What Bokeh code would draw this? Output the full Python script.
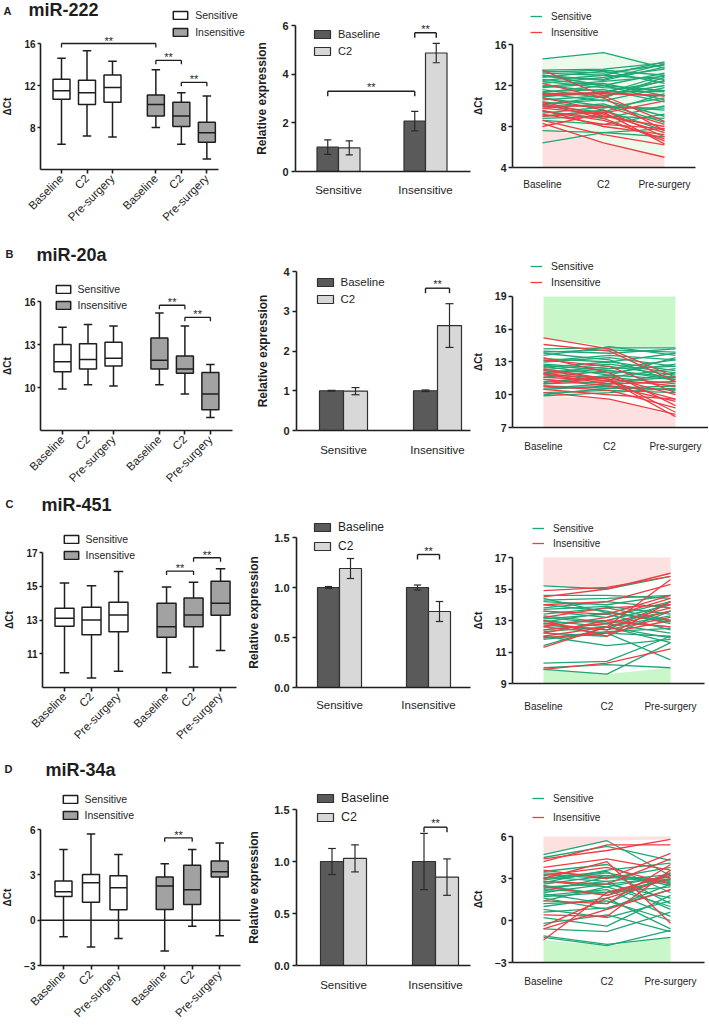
import math
import numpy as np
from bokeh.plotting import figure
from bokeh.layouts import column, row
from bokeh.models import (FixedTicker, Legend, LegendItem, Label,
                          CustomJSTickFormatter, NumeralTickFormatter)
from bokeh.embed import file_html
from bokeh.resources import INLINE
from bokeh.core.properties import value

FONT = "Liberation Sans"
INK = "#1e1e1e"
GREEN = "#1fa774"
RED = "#ee3d43"
GREEN_FILL = "#c9f7c9"
PINK_FILL = "#fde1e1"
PALE_GREEN = "#ecfaec"
INS_BOX = "#a2a2a2"
BAR_BASE = "#5a5a5a"
BAR_C2 = "#d8d8d8"

# ------------------------------------------------------------------ data
time_points = ["Baseline", "C2", "Pre-surgery"]
groups = ["Sensitive", "Insensitive"]
bar_series = ["Baseline", "C2"]
panel_letters = ["A", "B", "C", "D"]
panel_titles = ["miR-222", "miR-20a", "miR-451", "miR-34a"]

# box statistics per time point: [min, q1, median, q3, max]
a_box_sens = [[6.4, 10.7, 11.5, 12.6, 14.6], [7.2, 10.2, 11.3, 12.5, 15.3], [7.1, 10.4, 11.8, 13.0, 14.3]]
a_box_ins = [[8.0, 9.1, 10.2, 11.1, 13.5], [6.4, 8.1, 9.1, 10.4, 11.3], [5.0, 6.6, 7.5, 8.5, 11.0]]
b_box_sens = [[9.9, 11.1, 11.8, 13.0, 14.2], [10.2, 11.3, 11.95, 13.05, 14.4], [10.1, 11.5, 12.05, 13.15, 14.3]]
b_box_ins = [[10.2, 11.3, 11.9, 13.45, 15.2], [9.55, 11.0, 11.3, 12.2, 14.3], [7.9, 8.45, 9.55, 11.05, 11.6]]
c_box_sens = [[9.87, 12.63, 13.1, 13.7, 15.2], [9.57, 12.13, 13.0, 13.75, 15.03], [9.97, 12.3, 13.3, 14.05, 15.88]]
c_box_ins = [[9.87, 11.98, 12.6, 14.0, 14.95], [10.22, 12.6, 13.3, 14.3, 15.23], [11.2, 13.28, 14.0, 15.3, 16.03]]
d_box_sens = [[-1.1, 1.57, 1.88, 2.6, 4.68], [-1.78, 1.18, 2.48, 3.03, 5.71], [-1.22, 0.69, 2.15, 2.94, 4.35]]
d_box_ins = [[-2.04, 0.71, 2.26, 2.85, 3.73], [-0.41, 1.04, 2.01, 3.64, 4.68], [-1.03, 2.85, 3.2, 3.91, 5.1]]

# significance brackets for box plots: [box i, box j, bracket height]
a_box_sig = [[0, 3, 16.0], [3, 4, 14.4], [4, 5, 12.3]]
b_box_sig = [[3, 4, 15.74], [4, 5, 14.9]]
c_box_sig = [[3, 4, 15.9], [4, 5, 16.69]]
d_box_sig = [[3, 4, 5.45]]

# relative expression bars (Sensitive, Insensitive)
a_bar_base, a_bar_base_err = [1.0, 2.07], [0.30, 0.40]
a_bar_c2, a_bar_c2_err = [0.97, 4.87], [0.29, 0.40]
b_bar_base, b_bar_base_err = [1.0, 1.0], [0.01, 0.02]
b_bar_c2, b_bar_c2_err = [0.99, 2.64], [0.09, 0.55]
c_bar_base, c_bar_base_err = [1.0, 1.0], [0.01, 0.025]
c_bar_c2, c_bar_c2_err = [1.19, 0.76], [0.10, 0.10]
d_bar_base, d_bar_base_err = [1.0, 1.0], [0.125, 0.27]
d_bar_c2, d_bar_c2_err = [1.03, 0.85], [0.13, 0.175]
# bar brackets: [bar slot i, bar slot j, height]; slots: S-Base, S-C2, I-Base, I-C2
a_bar_sig = [[0, 2, 3.3], [2, 3, 5.7]]
b_bar_sig = [[2, 3, 3.58]]
c_bar_sig = [[2, 3, 1.33]]
d_bar_sig = [[2, 3, 1.33]]

# individual patient trajectories: [Baseline, C2, Pre-surgery]
a_lines_sens = [
    [14.6, 15.2, 13.7], [13.5, 13.6, 14.2], [13.4, 13.2, 14.0], [13.2, 13.0, 12.6],
    [13.0, 12.5, 13.8], [12.8, 13.4, 12.2], [12.6, 12.0, 13.2], [12.4, 11.8, 11.5],
    [12.2, 12.8, 13.6], [12.0, 11.4, 12.4], [11.8, 12.2, 11.0], [11.6, 10.8, 12.8],
    [11.4, 11.6, 10.4], [11.2, 10.5, 11.8], [11.0, 11.2, 13.0], [10.8, 10.0, 9.6],
    [10.6, 11.0, 12.0], [10.4, 9.8, 10.8], [10.2, 10.6, 9.0], [10.0, 9.4, 11.2],
    [9.8, 10.2, 8.4], [9.5, 8.8, 10.0], [9.0, 9.6, 7.6], [8.6, 8.2, 9.2],
    [7.6, 7.4, 7.0], [6.4, 7.4, 7.8], [13.0, 12.0, 11.5], [12.5, 13.0, 14.3],
    [13.3, 13.5, 13.0], [12.9, 12.6, 14.1], [11.9, 12.4, 12.9], [11.3, 12.0, 10.6],
    [10.9, 11.4, 11.4], [10.1, 10.9, 12.5], [9.3, 9.9, 9.8], [8.8, 9.0, 8.8]]
a_lines_ins = [
    [13.5, 11.0, 8.5], [12.2, 10.8, 7.6], [11.2, 11.3, 11.0], [11.1, 11.2, 11.0],
    [10.8, 9.6, 7.0], [10.4, 9.0, 8.0], [10.2, 8.8, 6.6], [10.0, 10.0, 8.2],
    [9.8, 9.2, 7.4], [9.5, 8.6, 6.8], [9.2, 8.2, 7.8], [9.0, 9.4, 6.3],
    [8.6, 7.2, 6.2], [8.3, 6.4, 5.0], [8.0, 9.3, 10.5], [9.6, 8.0, 7.2]]
b_lines_sens = [
    [14.2, 14.3, 14.3], [14.0, 13.8, 14.2], [13.6, 14.4, 13.6], [13.3, 13.0, 13.8],
    [13.0, 13.4, 12.6], [12.8, 12.4, 13.2], [12.5, 13.0, 12.2], [12.2, 12.0, 12.8],
    [12.0, 12.6, 11.8], [11.8, 11.6, 12.4], [11.6, 12.2, 11.4], [11.4, 11.0, 12.0],
    [11.2, 11.6, 11.0], [11.0, 11.2, 11.6], [10.8, 10.6, 10.8], [10.5, 10.8, 10.4],
    [10.2, 10.4, 10.2], [9.9, 10.2, 10.6], [13.8, 13.2, 11.2], [12.6, 11.8, 13.4],
    [13.9, 14.1, 13.9], [13.1, 13.6, 13.2], [12.3, 12.8, 12.0], [11.9, 12.4, 12.6],
    [11.1, 11.8, 11.4], [10.6, 11.0, 11.2], [10.0, 10.6, 10.5], [12.7, 12.2, 11.6]]
b_lines_ins = [
    [15.2, 14.2, 11.6], [14.6, 14.0, 11.2], [13.4, 12.0, 9.0], [13.2, 12.6, 10.2],
    [12.4, 11.4, 8.4], [12.0, 11.2, 9.6], [11.9, 11.0, 11.2], [11.6, 11.3, 8.0],
    [11.4, 10.8, 9.4], [11.0, 11.6, 10.0], [10.8, 10.4, 8.8], [10.5, 10.0, 9.6],
    [10.2, 9.6, 8.2], [12.2, 11.4, 10.8]]
c_lines_sens = [
    [15.2, 15.0, 15.8], [14.6, 14.6, 14.4], [14.2, 14.0, 14.6], [14.0, 13.6, 12.8],
    [13.8, 14.2, 13.8], [13.6, 13.2, 14.2], [13.4, 13.8, 13.0], [13.2, 12.8, 13.6],
    [13.1, 13.4, 12.4], [13.0, 12.6, 13.3], [12.8, 13.0, 14.0], [12.6, 12.2, 12.0],
    [12.4, 12.8, 12.2], [12.2, 12.0, 13.6], [12.0, 11.4, 11.8], [11.8, 12.2, 10.5],
    [11.4, 12.6, 11.6], [10.3, 10.4, 12.0], [9.9, 9.6, 11.6], [10.0, 10.2, 10.0],
    [14.4, 13.5, 13.0], [14.3, 14.4, 14.6], [13.7, 13.9, 13.4], [13.3, 12.9, 12.6],
    [12.9, 13.5, 12.9], [12.7, 12.4, 14.2], [12.3, 12.6, 11.9], [11.9, 12.3, 12.5]]
c_lines_ins = [
    [14.9, 15.1, 15.8], [14.5, 15.0, 16.0], [14.0, 14.2, 15.3], [13.6, 13.4, 14.6],
    [13.2, 13.8, 14.0], [12.8, 12.4, 13.2], [12.6, 13.2, 14.4], [12.4, 12.8, 13.8],
    [12.0, 12.6, 15.6], [11.9, 12.2, 13.0], [11.3, 12.6, 13.6], [9.9, 10.3, 11.2],
    [12.2, 13.0, 12.6], [13.0, 12.0, 14.2]]
d_lines_sens = [
    [4.7, 5.7, 3.2], [4.5, 5.3, 4.3], [3.5, 4.0, 2.0], [3.3, 3.0, 3.8],
    [3.0, 3.5, 1.2], [2.8, 2.4, 3.2], [2.6, 3.2, 2.8], [2.5, 1.8, 3.0],
    [2.3, 2.8, 0.8], [2.2, 2.0, 2.4], [2.0, 2.6, 1.6], [1.9, 1.2, 3.4],
    [1.8, 2.2, 0.3], [1.6, 0.8, 2.6], [1.4, 2.4, 1.0], [1.0, 1.6, -0.6],
    [0.6, 0.9, 2.2], [0.2, -0.4, 1.8], [-0.2, 0.4, -0.8], [-0.6, -0.8, 0.6],
    [-1.1, -1.7, -1.2], [-1.2, -1.8, -0.7], [2.7, 3.6, 4.1], [3.4, 3.2, 2.9],
    [3.1, 2.8, 3.3], [2.9, 3.4, 2.5], [2.4, 2.6, 3.1], [2.1, 3.1, 2.7],
    [1.7, 2.0, 2.9], [1.2, 1.4, 0.0], [0.8, 0.2, 1.4]]
d_lines_ins = [
    [4.4, 5.0, 5.8], [4.2, 5.4, 5.4], [3.8, 4.4, 3.6], [3.6, 3.0, 4.8],
    [3.2, 3.8, 2.6], [2.8, 2.6, 4.4], [2.4, 1.8, 3.4], [1.4, 1.2, 4.0],
    [0.4, 0.3, 3.6], [-0.4, 1.6, 3.0], [-0.6, 0.8, 2.2], [-1.4, 2.0, 3.2],
    [3.0, 4.2, -0.2]]

# ------------------------------------------------------------------ layout helpers
COL_X = [0, 248, 472]
COL_W = [248, 224, 236]
ROW_Y = [0, 235, 490, 752]
ROW_H = [235, 255, 262, 272]


def make_fig(ci, ri, frame_bottom, anchor_ref, anchor_val, px_x, y0, px_y):
    def X(ref):
        return anchor_val + (ref - anchor_ref) / px_x

    def Y(ref):
        return y0 + (frame_bottom - ref) / px_y

    x0r, x1r = COL_X[ci], COL_X[ci] + COL_W[ci]
    y0r, y1r = ROW_Y[ri], ROW_Y[ri] + ROW_H[ri]
    p = figure(width=COL_W[ci], height=ROW_H[ri], title=None,
               x_range=(X(x0r), X(x1r)), y_range=(Y(y1r), Y(y0r)),
               output_backend="svg", toolbar_location=None, tools="",
               min_border_left=0, min_border_right=0, min_border_top=0,
               min_border_bottom=0)
    p.outline_line_color = None
    p.grid.visible = False
    p.background_fill_color = "white"
    p.border_fill_color = "white"
    return p, X, Y


def style_axis(ax, tick_out, label_size, label_standoff):
    ax.axis_line_color = INK
    ax.axis_line_width = 1.6
    ax.major_tick_line_color = INK
    ax.major_tick_line_width = 1.6
    ax.major_tick_in = 0
    ax.major_tick_out = tick_out
    ax.minor_tick_line_color = None
    ax.major_label_text_font = FONT
    ax.major_label_text_color = INK
    ax.major_label_text_font_size = label_size
    ax.major_label_standoff = label_standoff
    ax.axis_label_text_font = FONT
    ax.axis_label_text_color = INK
    ax.axis_label_text_font_style = "bold"


NEG_FMT = "return tick < 0 ? '\u2212' + Math.abs(tick) : String(tick);"


def make_legend(p, ci, ri, items, left_ref, top_ref, glyph_w, glyph_h, label_h, standoff, size):
    bottom_ref = top_ref + 2 * label_h + 3
    loc = (left_ref - COL_X[ci], ROW_Y[ri] + ROW_H[ri] - bottom_ref)
    leg = Legend(items=[LegendItem(label=t, renderers=[r]) for t, r in items],
                 location=loc, orientation="vertical", padding=0, margin=0, spacing=3,
                 glyph_width=glyph_w, glyph_height=glyph_h, label_height=label_h,
                 label_standoff=standoff, label_text_font=FONT, label_text_font_size=size,
                 label_text_color=INK, border_line_color=None, background_fill_alpha=0)
    p.add_layout(leg)


def box_panel(ri, g, sens, ins, sig, yticks, ybounds, leg, title_xy, neg=False):
    p, X, Y = make_fig(0, ri, g["fb"], g["p1"], 1.0, g["px"], g["y0"], g["py"])
    pos = np.array([1, 2, 3, 1 + g["off"], 2 + g["off"], 3 + g["off"]], dtype=float)
    st = np.array(sens + ins, dtype=float)
    lo, q1, med, q3, hi = st.T
    w = g["bw"] / g["px"]
    lw = 1.5
    if neg:
        p.segment(x0=[X(g["fl"])], y0=[0], x1=[X(g["xend"])], y1=[0], line_color=INK, line_width=1.5)
    p.segment(x0=pos, y0=q3, x1=pos, y1=hi, line_color=INK, line_width=lw)
    p.segment(x0=pos, y0=lo, x1=pos, y1=q1, line_color=INK, line_width=lw)
    p.segment(x0=pos - w / 4, y0=hi, x1=pos + w / 4, y1=hi, line_color=INK, line_width=lw)
    p.segment(x0=pos - w / 4, y0=lo, x1=pos + w / 4, y1=lo, line_color=INK, line_width=lw)
    rs = p.vbar(x=pos[:3], width=w, bottom=q1[:3], top=q3[:3], fill_color="white",
                line_color=INK, line_width=lw)
    rin = p.vbar(x=pos[3:], width=w, bottom=q1[3:], top=q3[3:], fill_color=INS_BOX,
                 line_color=INK, line_width=lw)
    p.segment(x0=pos - w / 2, y0=med, x1=pos + w / 2, y1=med, line_color=INK, line_width=lw)

    # significance brackets
    d = 4 / g["py"]
    x0s, y0s, x1s, y1s, tx, ty = [], [], [], [], [], []
    for i, j, yb in sig:
        xi, xj = pos[i], pos[j]
        x0s += [xi, xi, xj]; x1s += [xj, xi, xj]
        y0s += [yb, yb, yb]; y1s += [yb, yb - d, yb - d]
        tx.append((xi + xj) / 2); ty.append(yb + 3 / g["py"])
    p.segment(x0=x0s, y0=y0s, x1=x1s, y1=y1s, line_color=INK, line_width=1.3)
    p.text(x=tx, y=ty, text=["**"] * len(tx), text_align="center", text_baseline="middle",
           text_font=value(FONT), text_font_size="11px", text_color=INK)

    # axes
    xa, ya = p.xaxis[0], p.yaxis[0]
    style_axis(xa, 4, "11.5px", 3)
    xa.fixed_location = g["y0"]
    xa.ticker = FixedTicker(ticks=list(pos))
    xa.major_label_overrides = {float(x): time_points[k % 3] for k, x in enumerate(pos)}
    xa.major_label_orientation = math.pi / 4
    xa.bounds = (X(g["fl"]), X(g["xend"]))
    style_axis(ya, 3, "10px", 2)
    ya.fixed_location = X(g["fl"])
    ya.ticker = FixedTicker(ticks=yticks)
    ya.bounds = ybounds
    ya.major_label_text_font_style = "bold"
    ya.axis_label = "\u0394Ct"
    ya.axis_label_text_font_size = "10px"
    ya.axis_label_standoff = 8
    if neg:
        ya.formatter = CustomJSTickFormatter(code=NEG_FMT)

    # panel letter and title
    (lx, ly), (tx0, ty0) = title_xy
    p.add_layout(Label(x=X(lx), y=Y(ly), text=panel_letters[ri], text_align="left",
                       text_baseline="middle", text_font=FONT, text_font_style="bold",
                       text_font_size="11px", text_color=INK))
    p.add_layout(Label(x=X(tx0), y=Y(ty0), text=panel_titles[ri], text_align="left",
                       text_baseline="middle", text_font=FONT, text_font_style="bold",
                       text_font_size="18px", text_color=INK))

    gl, top, lh, size = leg
    make_legend(p, 0, ri, [(groups[0], rs), (groups[1], rin)], gl, top, 18, 10, lh, 6, size)
    return p


def bar_panel(ri, g, base, base_err, c2, c2_err, sig, yticks, ytop, leg, xstand, fmt=None):
    p, X, Y = make_fig(1, ri, g["fb"], g["g1"], 1.0, g["px"], 0.0, g["py"])
    gx = np.array([1.0, 2.0])
    bw = g["bw"] / g["px"]
    xb, xc = gx - bw / 2, gx + bw / 2
    rb = p.vbar(x=xb, width=bw, bottom=0, top=base, fill_color=BAR_BASE, line_color="#303030",
                line_width=1.2)
    rc = p.vbar(x=xc, width=bw, bottom=0, top=c2, fill_color=BAR_C2, line_color="#303030",
                line_width=1.2)
    ex = np.concatenate([xb, xc])
    ev = np.array(base + c2)
    ee = np.array(base_err + c2_err)
    cw = bw / 6
    p.segment(x0=ex, y0=ev - ee, x1=ex, y1=ev + ee, line_color="#2a2a2a", line_width=1.2)
    p.segment(x0=ex - cw, y0=ev + ee, x1=ex + cw, y1=ev + ee, line_color="#2a2a2a", line_width=1.2)
    p.segment(x0=ex - cw, y0=ev - ee, x1=ex + cw, y1=ev - ee, line_color="#2a2a2a", line_width=1.2)

    slots = [xb[0], xc[0], xb[1], xc[1]]
    d = 5 / g["py"]
    x0s, y0s, x1s, y1s, tx, ty = [], [], [], [], [], []
    for i, j, yb in sig:
        xi, xj = slots[i], slots[j]
        x0s += [xi, xi, xj]; x1s += [xj, xi, xj]
        y0s += [yb, yb, yb]; y1s += [yb, yb - d, yb - d]
        tx.append((xi + xj) / 2); ty.append(yb + 4 / g["py"])
    p.segment(x0=x0s, y0=y0s, x1=x1s, y1=y1s, line_color=INK, line_width=1.4)
    p.text(x=tx, y=ty, text=["**"] * len(tx), text_align="center", text_baseline="middle",
           text_font=value(FONT), text_font_size="11px", text_color=INK)

    xa, ya = p.xaxis[0], p.yaxis[0]
    style_axis(xa, 0, "11.5px", xstand)
    xa.fixed_location = 0
    xa.major_tick_line_color = None
    xa.ticker = FixedTicker(ticks=[1, 2])
    xa.major_label_overrides = {1: groups[0], 2: groups[1]}
    xa.bounds = (X(g["fl"]), X(g["xend"]))
    style_axis(ya, 4, "11px", 3)
    ya.fixed_location = X(g["fl"])
    ya.major_label_text_font_style = "bold"
    ya.ticker = FixedTicker(ticks=yticks)
    ya.bounds = (0, ytop)
    ya.axis_label = "Relative expression"
    ya.axis_label_text_font_size = "12px"
    ya.axis_label_standoff = 10
    if fmt is not None:
        ya.formatter = fmt

    gl, top, lh, size = leg
    make_legend(p, 1, ri, [(bar_series[0], rb), (bar_series[1], rc)], gl, top, 20, 10, lh, 6, size)
    return p


def line_panel(ri, g, sens, ins, yticks, ybounds, mode, leg, xstand, neg=False):
    p, X, Y = make_fig(2, ri, g["fb"], g["c1"], 1.0, g["px"], g["y0"], g["py"])
    tx = [1, 2, 3]
    s = np.array(sens, dtype=float)
    r = np.array(ins, dtype=float)
    allv = np.vstack([s, r])
    lo_b, hi_b = ybounds
    if mode == "low_pink":
        p.varea(x=tx, y1=[lo_b] * 3, y2=r.min(axis=0), fill_color=PINK_FILL)
        p.varea(x=tx, y1=r.min(axis=0), y2=s.max(axis=0), fill_color=PALE_GREEN)
    elif mode == "green_top":
        p.varea(x=tx, y1=allv.max(axis=0), y2=[hi_b] * 3, fill_color=GREEN_FILL)
        p.varea(x=tx, y1=[lo_b] * 3, y2=allv.min(axis=0), fill_color=PINK_FILL)
    else:
        p.varea(x=tx, y1=allv.max(axis=0), y2=[hi_b] * 3, fill_color=PINK_FILL)
        p.varea(x=tx, y1=[lo_b] * 3, y2=allv.min(axis=0), fill_color=GREEN_FILL)
    rs = p.multi_line(xs=[tx] * len(sens), ys=sens, line_color=GREEN, line_width=1.3)
    rr = p.multi_line(xs=[tx] * len(ins), ys=ins, line_color=RED, line_width=1.3)

    xa, ya = p.xaxis[0], p.yaxis[0]
    style_axis(xa, 0, "10px", xstand)
    xa.fixed_location = g["y0"]
    xa.major_tick_line_color = None
    xa.ticker = FixedTicker(ticks=tx)
    xa.major_label_overrides = {1: time_points[0], 2: time_points[1], 3: time_points[2]}
    xa.bounds = (X(g["fl"]), X(g["xend"]))
    style_axis(ya, 4, "10.5px", 2)
    ya.fixed_location = X(g["fl"])
    ya.major_label_text_font_style = "bold"
    ya.ticker = FixedTicker(ticks=yticks)
    ya.bounds = ybounds
    ya.axis_label = "\u0394Ct"
    ya.axis_label_text_font_size = "10px"
    ya.axis_label_standoff = 8
    if neg:
        ya.formatter = CustomJSTickFormatter(code=NEG_FMT)

    gl, top, lh, size = leg
    make_legend(p, 2, ri, [(groups[0], rs), (groups[1], rr)], gl, top, 12, 10, lh, 9, size)
    return p


# ------------------------------------------------------------------ panels
box_geo = [
    dict(fl=40, fb=169, p1=61, px=25.5, y0=4, py=10.5, off=3.7, xend=218, bw=17),
    dict(fl=40, fb=430, p1=62, px=25.5, y0=7, py=14.33, off=3.8, xend=232, bw=17),
    dict(fl=42, fb=687, p1=64, px=27.0, y0=9, py=16.875, off=3.78, xend=236, bw=19),
    dict(fl=40, fb=965, p1=63, px=27.5, y0=-3, py=15.11, off=3.68, xend=240, bw=17),
]
bar_geo = [
    dict(fl=295, fb=171, g1=338, px=87, py=24.33, bw=21.5, xend=470),
    dict(fl=296, fb=430, g1=343, px=94, py=39.75, bw=24, xend=470),
    dict(fl=296, fb=687, g1=339, px=89, py=100.0, bw=22, xend=470),
    dict(fl=296, fb=965, g1=343, px=92, py=104.0, bw=23, xend=470),
]
line_geo = [
    dict(fl=512, fb=167, c1=542, px=61, y0=4, py=10.25, xend=695),
    dict(fl=512, fb=427, c1=543, px=66, y0=7, py=10.92, xend=708),
    dict(fl=512, fb=683, c1=543, px=63.5, y0=9, py=15.75, xend=704),
    dict(fl=512, fb=962, c1=543, px=63.5, y0=-3, py=14.0, xend=704),
]

pA1 = box_panel(0, box_geo[0], a_box_sens, a_box_ins, a_box_sig, [8, 12, 16], (4, 16),
                (171.2, 8, 14, "10.5px"), ((3, 10), (28, 9)))
pB1 = box_panel(1, box_geo[1], b_box_sens, b_box_ins, b_box_sig, [10, 13, 16], (7, 16),
                (53.5, 282.5, 13, "10.5px"), ((5, 253), (36, 254)))
pC1 = box_panel(2, box_geo[2], c_box_sens, c_box_ins, c_box_sig, [11, 13, 15, 17], (9, 17),
                (61.5, 532.5, 13, "10.5px"), ((5, 503), (41, 504)))
pD1 = box_panel(3, box_geo[3], d_box_sens, d_box_ins, d_box_sig, [-3, 0, 3, 6], (-3, 6),
                (60.5, 792.5, 13, "10.5px"), ((4, 768), (45, 769)), neg=True)

pA2 = bar_panel(0, bar_geo[0], a_bar_base, a_bar_base_err, a_bar_c2, a_bar_c2_err, a_bar_sig,
                [0, 2, 4, 6], 6, (312, 27, 14, "11px"), 12)
pB2 = bar_panel(1, bar_geo[1], b_bar_base, b_bar_base_err, b_bar_c2, b_bar_c2_err, b_bar_sig,
                [0, 1, 2, 3, 4], 4, (314.5, 275, 14, "11.5px"), 13)
pC2 = bar_panel(2, bar_geo[2], c_bar_base, c_bar_base_err, c_bar_c2, c_bar_c2_err, c_bar_sig,
                [0, 0.5, 1, 1.5], 1.5, (312, 519, 16, "12px"), 11,
                fmt=NumeralTickFormatter(format="0.0"))
pD2 = bar_panel(3, bar_geo[3], d_bar_base, d_bar_base_err, d_bar_c2, d_bar_c2_err, d_bar_sig,
                [0, 0.5, 1, 1.5], 1.5, (315, 790, 16, "12.5px"), 13,
                fmt=NumeralTickFormatter(format="0.0"))

pA3 = line_panel(0, line_geo[0], a_lines_sens, a_lines_ins, [4, 8, 12, 16], (4, 16), "low_pink",
                 (530, 9.5, 13, "10px"), 11)
pB3 = line_panel(1, line_geo[1], b_lines_sens, b_lines_ins, [7, 10, 13, 16, 19], (7, 19),
                 "green_top", (530, 259.5, 13, "10.5px"), 13)
pC3 = line_panel(2, line_geo[2], c_lines_sens, c_lines_ins, [9, 11, 13, 15, 17], (9, 17),
                 "pink_top", (532, 522, 12, "10px"), 17)
pD3 = line_panel(3, line_geo[3], d_lines_sens, d_lines_ins, [-3, 0, 3, 6], (-3, 6),
                 "pink_top", (532, 790, 16, "10px"), 13, neg=True)

layout = column(row(pA1, pA2, pA3), row(pB1, pB2, pB3), row(pC1, pC2, pC3), row(pD1, pD2, pD3))

open("out.html", "w").write(file_html(layout, INLINE))
